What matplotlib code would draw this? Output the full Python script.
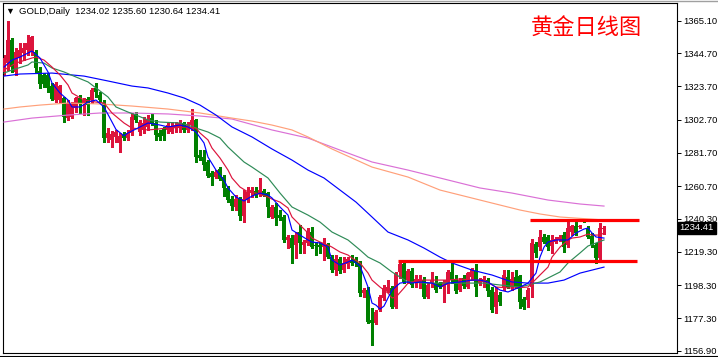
import matplotlib
matplotlib.use('Agg')
import matplotlib.pyplot as plt
import matplotlib.transforms as mtransforms
from matplotlib.lines import Line2D
import numpy as np

plt.rcParams['font.family'] = ['Liberation Sans', 'DejaVu Sans']

# daily candles, oldest first (last one is the live bar)
opens = [1332.8, 1338.4, 1353.0, 1332.8, 1341.6, 1344.8, 1346.6, 1345.4, 1345.4, 1333.4,
         1330.9, 1330.9, 1323.9, 1315.1, 1315.1, 1316.4, 1303.7, 1304.4, 1310.1, 1316.4,
         1313.2, 1315.7, 1315.1, 1322.7, 1318.3, 1313.2, 1291.1, 1289.9, 1291.8, 1288.0,
         1293.0, 1291.1, 1294.3, 1305.6, 1294.9, 1296.2, 1298.1, 1303.7, 1300.6, 1294.3,
         1296.8, 1296.2, 1294.9, 1297.4, 1297.4, 1300.6, 1296.2, 1299.3, 1302.5, 1280.4,
         1279.1, 1276.0, 1269.0, 1266.5, 1271.6, 1266.5, 1259.6, 1252.6, 1247.6, 1253.3,
         1241.9, 1252.0, 1256.4, 1257.7, 1255.8, 1257.7, 1256.4, 1241.3, 1247.6, 1242.5,
         1241.3, 1226.8, 1228.0, 1223.6, 1231.8, 1223.6, 1224.9, 1231.8, 1223.6, 1223.6,
         1222.3, 1223.6, 1216.0, 1207.8, 1214.8, 1207.8, 1211.6, 1214.1, 1214.1, 1212.3,
         1193.3, 1195.2, 1176.3, 1174.4, 1182.6, 1190.2, 1194.6, 1196.5, 1184.5, 1206.6,
         1211.6, 1201.5, 1207.2, 1199.6, 1200.3, 1201.5, 1190.8, 1199.6, 1199.6, 1199.6,
         1197.1, 1198.4, 1206.6, 1202.2, 1195.2, 1202.8, 1197.1, 1203.4, 1207.2, 1199.6,
         1200.3, 1201.5, 1195.2, 1184.5, 1192.1, 1197.1, 1203.4, 1197.1, 1203.4, 1204.0,
         1189.5, 1188.9, 1197.1, 1224.2, 1222.3, 1228.7, 1228.7, 1223.0, 1225.5, 1226.8,
         1229.9, 1223.6, 1231.8, 1235.6, 1235.0, 1239.4, 1234.3, 1229.3, 1223.6, 1215.4,
         1234.02]
highs = [1343.5, 1364.9, 1354.2, 1347.9, 1351.1, 1351.1, 1356.1, 1355.5, 1346.6, 1335.9,
         1332.1, 1332.1, 1325.8, 1326.5, 1324.6, 1317.0, 1315.1, 1313.8, 1317.0, 1318.3,
         1316.4, 1317.0, 1322.7, 1325.8, 1320.2, 1315.1, 1297.4, 1295.5, 1296.2, 1294.3,
         1294.9, 1296.2, 1306.9, 1307.5, 1302.5, 1304.4, 1305.6, 1306.9, 1302.5, 1296.2,
         1298.1, 1300.6, 1301.2, 1301.2, 1302.5, 1301.2, 1301.2, 1309.4, 1303.1, 1283.5,
         1283.5, 1277.2, 1270.3, 1270.9, 1272.8, 1267.8, 1260.8, 1254.5, 1255.2, 1253.9,
         1258.3, 1260.2, 1260.2, 1260.2, 1265.9, 1258.9, 1257.1, 1248.8, 1250.1, 1245.7,
         1242.5, 1229.9, 1229.9, 1231.8, 1236.2, 1226.8, 1234.3, 1235.0, 1225.5, 1225.5,
         1228.0, 1224.9, 1217.3, 1217.3, 1216.0, 1216.0, 1216.0, 1217.3, 1216.0, 1213.5,
         1196.5, 1197.1, 1183.9, 1182.6, 1192.1, 1198.4, 1201.5, 1197.7, 1206.6, 1212.9,
         1212.9, 1208.5, 1209.1, 1204.7, 1204.7, 1203.4, 1199.6, 1206.6, 1204.0, 1200.3,
         1201.5, 1207.8, 1212.9, 1204.7, 1202.8, 1204.7, 1206.6, 1209.1, 1211.6, 1202.8,
         1204.0, 1202.8, 1197.1, 1197.1, 1194.0, 1207.8, 1207.8, 1206.6, 1207.8, 1204.7,
         1190.8, 1196.5, 1227.4, 1225.5, 1233.1, 1230.5, 1229.9, 1229.9, 1228.7, 1229.9,
         1231.8, 1239.4, 1236.2, 1240.0, 1236.2, 1240.0, 1235.6, 1231.2, 1224.9, 1237.5,
         1235.60]
lows = [1330.9, 1334.0, 1332.8, 1330.9, 1338.4, 1340.3, 1343.5, 1343.5, 1332.8, 1322.7,
        1323.3, 1320.2, 1315.1, 1313.8, 1313.2, 1301.2, 1302.5, 1303.7, 1307.5, 1306.9,
        1305.6, 1305.6, 1313.2, 1317.0, 1313.8, 1288.6, 1288.6, 1285.4, 1288.6, 1282.3,
        1289.9, 1289.9, 1293.0, 1301.2, 1293.0, 1294.3, 1296.2, 1299.3, 1289.9, 1289.9,
        1289.9, 1294.3, 1294.3, 1294.9, 1294.9, 1294.9, 1294.9, 1296.2, 1276.0, 1277.2,
        1270.9, 1266.5, 1261.5, 1265.9, 1264.6, 1254.5, 1250.7, 1245.7, 1245.7, 1239.4,
        1238.1, 1250.7, 1253.9, 1253.9, 1254.5, 1254.5, 1241.3, 1240.6, 1236.2, 1239.4,
        1225.5, 1221.7, 1212.3, 1215.4, 1218.6, 1218.6, 1223.6, 1221.7, 1217.3, 1218.6,
        1214.1, 1215.4, 1206.6, 1204.7, 1205.9, 1206.6, 1209.1, 1211.0, 1210.4, 1191.4,
        1190.8, 1174.4, 1160.5, 1173.8, 1182.0, 1188.9, 1194.0, 1183.9, 1183.9, 1202.8,
        1199.6, 1199.6, 1197.1, 1197.1, 1196.5, 1190.2, 1190.2, 1197.1, 1194.0, 1196.5,
        1187.6, 1193.3, 1199.6, 1193.3, 1194.6, 1196.5, 1196.5, 1201.5, 1191.4, 1198.4,
        1197.1, 1191.4, 1181.3, 1180.7, 1185.7, 1195.2, 1196.5, 1195.2, 1196.5, 1183.9,
        1183.2, 1184.5, 1190.8, 1216.0, 1220.5, 1224.9, 1220.5, 1218.6, 1224.9, 1226.1,
        1219.2, 1222.3, 1229.9, 1229.9, 1234.3, 1238.1, 1228.0, 1222.3, 1212.3, 1214.8,
        1230.64]
closes = [1341.6, 1353.0, 1335.9, 1345.4, 1346.6, 1347.9, 1351.1, 1354.8, 1335.3, 1325.2,
          1325.2, 1322.7, 1315.7, 1325.2, 1323.9, 1304.4, 1313.2, 1312.6, 1316.4, 1312.6,
          1315.1, 1311.9, 1321.4, 1320.2, 1315.1, 1291.1, 1294.3, 1293.6, 1294.9, 1292.4,
          1291.1, 1294.3, 1304.4, 1302.5, 1301.2, 1300.6, 1302.5, 1300.6, 1293.0, 1291.8,
          1292.4, 1299.3, 1298.1, 1299.3, 1300.6, 1296.2, 1299.3, 1302.5, 1279.1, 1278.5,
          1274.1, 1267.1, 1266.5, 1269.7, 1265.3, 1259.6, 1252.0, 1248.2, 1252.6, 1241.9,
          1252.6, 1257.1, 1258.3, 1255.2, 1258.3, 1255.2, 1247.6, 1247.6, 1240.6, 1240.6,
          1226.8, 1228.7, 1221.7, 1229.9, 1224.9, 1225.5, 1231.8, 1222.3, 1223.0, 1222.3,
          1224.9, 1216.0, 1207.8, 1214.8, 1207.2, 1212.3, 1214.8, 1212.3, 1212.3, 1193.3,
          1195.2, 1175.0, 1174.4, 1181.3, 1190.8, 1196.5, 1197.1, 1184.5, 1205.9, 1211.6,
          1200.3, 1207.2, 1198.4, 1202.2, 1202.2, 1190.8, 1198.4, 1201.5, 1195.2, 1197.1,
          1200.3, 1206.6, 1201.5, 1194.6, 1201.5, 1197.7, 1205.9, 1207.8, 1197.1, 1201.5,
          1202.2, 1194.6, 1182.6, 1194.0, 1187.6, 1204.7, 1197.1, 1202.2, 1197.1, 1187.6,
          1184.5, 1195.2, 1224.9, 1218.6, 1228.7, 1225.5, 1222.3, 1226.8, 1227.4, 1228.7,
          1222.3, 1234.3, 1235.6, 1231.2, 1235.6, 1238.8, 1228.7, 1223.6, 1215.4, 1234.3,
          1234.41]

# moving averages (bar index, price)
ma_fast_i = [0, 2, 4, 7, 9, 11, 12, 14, 16, 17, 19, 21, 23, 25, 26, 28, 30, 31, 34, 36,
             39, 41, 44, 46, 48, 50, 51, 53, 55, 56, 58, 60, 62, 64, 66, 67, 69, 71, 72, 74,
             76, 77, 79, 81, 82, 84, 86, 87, 89, 91, 92, 93, 94, 95, 96, 97, 99, 101, 102, 104,
             107, 109, 111, 114, 117, 119, 121, 124, 126, 129, 131, 133, 134, 135, 136, 138, 141, 143, 145, 146,
             147, 148, 150]
ma_fast_v = [1335.9, 1340.3, 1342.2, 1346.0, 1341.6, 1332.8, 1325.8, 1319.5, 1315.1, 1310.7,
             1310.7, 1313.8, 1315.1, 1310.7, 1306.0, 1296.5, 1292.5, 1294.3, 1298.1, 1300.6,
             1299.3, 1298.1, 1299.3, 1298.1, 1294.9, 1288.0, 1279.1, 1270.9, 1264.6, 1259.6,
             1253.9, 1251.4, 1254.5, 1256.4, 1255.2, 1253.3, 1247.6, 1242.5, 1233.1, 1229.9,
             1226.8, 1225.5, 1224.9, 1222.3, 1214.1, 1211.0, 1212.9, 1214.1, 1210.4, 1197.1,
             1187.0, 1185.7, 1183.2, 1185.1, 1190.2, 1195.2, 1199.6, 1200.3, 1199.6, 1200.3,
             1199.6, 1197.1, 1199.6, 1200.3, 1201.5, 1201.5, 1200.3, 1195.2, 1194.0, 1197.1,
             1199.6, 1205.9, 1216.0, 1222.3, 1225.5, 1226.8, 1226.8, 1231.2, 1233.7, 1234.3,
             1231.2, 1228.7, 1228.0]

ma_red_i = [0, 3, 7, 8, 10, 12, 14, 16, 17, 20, 23, 25, 27, 30, 32, 36, 41, 46, 48, 49,
            51, 52, 54, 56, 57, 59, 61, 63, 66, 67, 69, 71, 72, 74, 76, 77, 79, 81, 82, 84,
            86, 87, 89, 91, 92, 94, 96, 97, 98, 100, 101, 104, 107, 111, 114, 117, 120, 123, 127, 131,
            132, 134, 136, 137, 139, 141, 142, 144, 146, 147, 149, 150]
ma_red_v = [1334.0, 1338.4, 1341.6, 1342.2, 1340.3, 1335.9, 1330.9, 1324.6, 1319.5, 1315.1,
            1313.8, 1313.2, 1306.9, 1300.6, 1297.4, 1296.2, 1297.4, 1298.1, 1297.4, 1294.3,
            1289.9, 1284.8, 1278.5, 1270.9, 1265.9, 1260.2, 1257.1, 1256.4, 1253.9, 1252.6,
            1250.7, 1247.0, 1241.3, 1236.2, 1231.2, 1228.0, 1225.5, 1223.6, 1222.3, 1219.2,
            1217.3, 1215.4, 1212.3, 1206.0, 1201.5, 1197.1, 1193.3, 1190.2, 1190.8, 1196.5,
            1199.6, 1201.5, 1201.5, 1201.5, 1202.2, 1201.5, 1201.5, 1197.1, 1196.5, 1197.1,
            1199.6, 1204.7, 1209.7, 1216.0, 1222.3, 1226.8, 1228.0, 1228.7, 1230.5, 1229.9,
            1229.9, 1231.2]

ma_green_i = [0, 2, 6, 7, 10, 12, 15, 18, 21, 23, 26, 28, 31, 33, 36, 39, 44, 46, 48, 51,
              54, 56, 60, 62, 66, 69, 72, 76, 79, 82, 86, 89, 91, 94, 97, 99, 101, 106, 112, 120,
              124, 129, 131, 134, 136, 139, 141, 144, 146, 148, 150]
ma_green_v = [1332.1, 1334.0, 1337.2, 1339.1, 1338.4, 1335.3, 1332.8, 1329.6, 1326.5, 1322.7,
              1317.0, 1310.7, 1307.5, 1305.6, 1302.5, 1301.2, 1300.6, 1299.3, 1297.4, 1294.9,
              1291.1, 1285.4, 1276.0, 1272.8, 1265.9, 1256.4, 1247.6, 1242.5, 1238.1, 1231.8,
              1226.8, 1220.5, 1216.0, 1212.3, 1206.6, 1203.4, 1200.3, 1199.6, 1199.6, 1199.6,
              1198.4, 1197.1, 1198.4, 1200.3, 1202.8, 1206.6, 1212.3, 1218.6, 1223.0, 1224.9,
              1226.8]

ma_slow_i = [0, 4, 12, 20, 26, 32, 36, 41, 45, 49, 53, 57, 62, 67, 72, 76, 80, 84, 88, 92,
             96, 101, 105, 109, 112, 117, 122, 127, 131, 136, 140, 144, 147, 150]
ma_slow_v = [1330.2, 1331.5, 1332.1, 1330.2, 1327.1, 1323.9, 1322.7, 1319.5, 1316.4, 1311.9,
             1305.6, 1298.1, 1291.8, 1284.2, 1277.2, 1270.9, 1265.9, 1258.3, 1250.7, 1241.3,
             1231.8, 1226.8, 1221.7, 1216.0, 1212.3, 1207.8, 1204.7, 1200.3, 1199.6, 1199.6,
             1201.5, 1205.9, 1207.8, 1209.7]

ma_orange_i = [0, 4, 9, 16, 24, 32, 41, 49, 57, 62, 67, 72, 76, 82, 92, 101, 109, 122, 129, 134,
               139, 150]
ma_orange_v = [1309.4, 1310.7, 1311.9, 1313.2, 1312.6, 1311.3, 1309.4, 1306.9, 1303.7, 1301.8,
               1299.3, 1296.2, 1291.8, 1284.2, 1272.8, 1266.5, 1258.3, 1250.1, 1245.7, 1243.2,
               1241.3, 1239.4]

ma_violet_i = [0, 7, 16, 24, 32, 41, 49, 57, 67, 76, 84, 92, 101, 109, 119, 127, 136, 144, 150]
ma_violet_v = [1301.2, 1303.7, 1305.6, 1306.9, 1306.9, 1306.3, 1305.0, 1303.1, 1296.2, 1291.1,
               1283.5, 1276.0, 1270.9, 1265.9, 1259.6, 1256.4, 1252.0, 1249.5, 1248.2]

# hand-drawn levels: (price, first bar, last bar)
resistance = (1239.6, 131.5, 158.7)
support = (1213.8, 98.5, 158.2)

price_ticks = [1365.10, 1344.70, 1323.70, 1302.70, 1281.70, 1260.70,
               1240.30, 1219.30, 1198.30, 1177.30, 1156.90]

UP = '#DC143C'
DOWN = '#008000'

W, H = 718, 357
fig = plt.figure(figsize=(W / 100, H / 100), dpi=100)
ax = fig.add_axes([3 / W, 4 / H, 674 / W, 350 / H])
ax.set_xlim(-0.25, 168.25)
ax.set_ylim(1155.5, 1376.3)

o = np.array(opens)
h = np.array(highs)
l = np.array(lows)
c = np.array(closes)
idx = np.arange(len(c))
cols = np.where(c >= o, UP, DOWN)

# candles, drawn crisp like the terminal does
ax.vlines(idx, l, h, colors=cols, lw=0.9, zorder=2, antialiased=False)
ax.bar(idx, np.maximum(np.abs(c - o), 0.5), bottom=np.minimum(o, c),
       width=0.78, color=cols, lw=0, zorder=3, antialiased=False)

# moving averages
ax.plot(ma_violet_i, ma_violet_v, color='#DA70D6', lw=0.85, zorder=4)
ax.plot(ma_orange_i, ma_orange_v, color='#FFA07A', lw=0.85, zorder=4)
ax.plot(ma_slow_i, ma_slow_v, color='#0000FF', lw=0.85, zorder=4)
ax.plot(ma_green_i, ma_green_v, color='#2E8B57', lw=0.85, zorder=4)
ax.plot(ma_red_i, ma_red_v, color='#DC143C', lw=0.85, zorder=4)
ax.plot(ma_fast_i, ma_fast_v, color='#0000FF', lw=0.85, zorder=4)

# support / resistance
for lvl, x0, x1 in (resistance, support):
    ax.hlines(lvl, x0, x1, color='#FF0000', lw=2.3, zorder=6)

# right price scale
ax.yaxis.tick_right()
ax.set_yticks(price_ticks)
ax.set_yticklabels([f'{v:.2f}' for v in price_ticks])
ax.tick_params(axis='y', length=3, width=0.7, pad=1.5, labelsize=6.8, colors='black')
ax.set_xticks([])
for s in ax.spines.values():
    s.set_linewidth(0.8)
    s.set_color('black')

# current price tag
trans = mtransforms.blended_transform_factory(ax.transAxes, ax.transData)
ax.text(1.004, closes[-1], f'{closes[-1]:.2f}', transform=trans, ha='left', va='center',
        color='white', fontsize=6.8, zorder=10, clip_on=False,
        bbox=dict(boxstyle='square,pad=0.2', fc='black', ec='black'))

# header
fig.text(10 / W, 1 - 11.5 / H, '▼', fontsize=6.5, ha='center', va='center')
fig.text(19 / W, 1 - 11.5 / H,
         f'GOLD,Daily  {opens[-1]:.2f} {highs[-1]:.2f} {lows[-1]:.2f} {closes[-1]:.2f}',
         fontsize=6.8, ha='left', va='center')
fig.text(586 / W, 1 - 28 / H, '黄金日线图', fontsize=16, color='#FF0000',
         ha='center', va='center', family=['Noto Sans CJK SC', 'DejaVu Sans'])

# window edges
fig.add_artist(Line2D([0, 1], [1 - 0.5 / H] * 2, color='#A0A0A0', lw=1, transform=fig.transFigure))
fig.add_artist(Line2D([0, 1], [1.2 / H] * 2, color='black', lw=0.8, transform=fig.transFigure))

fig.savefig('out.png', dpi=100)
